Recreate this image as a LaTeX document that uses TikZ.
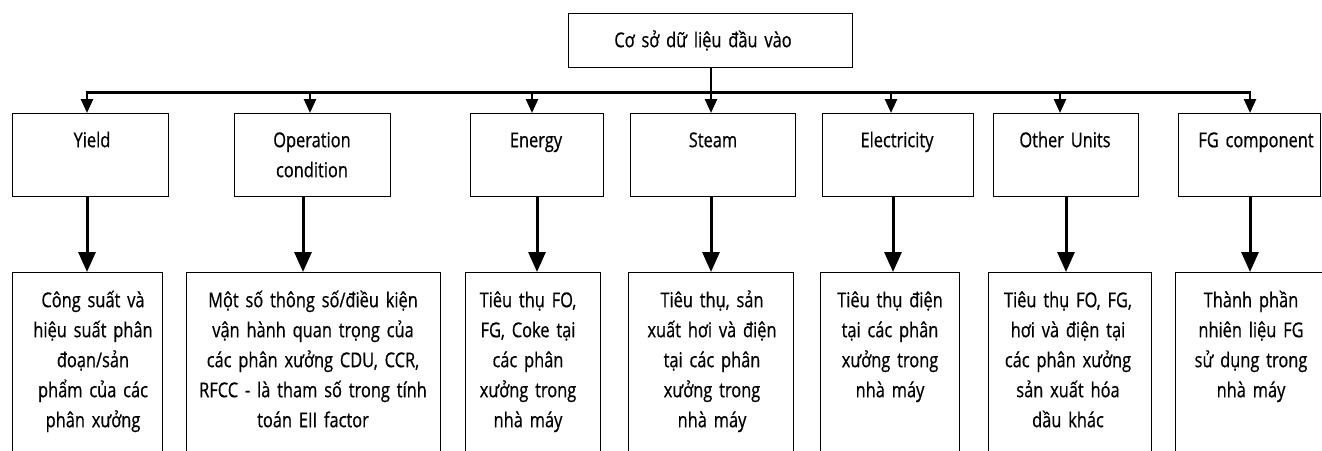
\documentclass[tikz,border=0pt]{standalone}
\usepackage{fontspec}
\setmainfont[FakeStretch=0.8,FakeBold=0.6]{Open Sans}
\usetikzlibrary{arrows.meta}
\begin{document}
\begin{tikzpicture}[x=1pt,y=-1pt,
  box/.style={draw, line width=1.2pt, inner sep=0pt, anchor=north west},
  txt/.style={inner sep=0pt, anchor=north, align=center, text width=260pt,
    font=\fontsize{20.5}{30}\selectfont},
  bus/.style={line width=2.5pt, line cap=rect},
  arrU/.style={line width=2.5pt, -{Triangle[length=14pt,width=12pt]}},
  arrL/.style={line width=3pt, -{Triangle[length=20pt,width=17pt]}}]
\useasboundingbox (0,0) rectangle (1322,450);
\clip (0,0) rectangle (1322,450);
\fill[white] (0,0) rectangle (1322,450);
% root
\node[box, minimum width=284pt, minimum height=54pt] (top) at (568,13) {};
\node[txt] (toptxt) at (703,25) {\rule{0pt}{22pt}Cơ sở dữ liệu đầu vào};
% top row
\node[box, minimum width=156pt, minimum height=83pt] (t1) at (12,113) {};
\node[box, minimum width=156pt, minimum height=83pt] (t2) at (234,113) {};
\node[box, minimum width=133pt, minimum height=83pt] (t3) at (470,113) {};
\node[box, minimum width=165pt, minimum height=83pt] (t4) at (630,113) {};
\node[box, minimum width=151pt, minimum height=83pt] (t5) at (822,113) {};
\node[box, minimum width=145pt, minimum height=83pt] (t6) at (993,113) {};
\node[box, minimum width=142pt, minimum height=83pt] (t7) at (1178,113) {};
\node[txt] (tt1) at (92,125) {\rule{0pt}{22pt}Yield};
\node[txt] (tt2) at (312,125) {\rule{0pt}{22pt}Operation\\condition};
\node[txt] (tt3) at (536,125) {\rule{0pt}{22pt}Energy};
\node[txt] (tt4) at (713,125) {\rule{0pt}{22pt}Steam};
\node[txt] (tt5) at (897,125) {\rule{0pt}{22pt}Electricity};
\node[txt] (tt6) at (1065,125) {\rule{0pt}{22pt}Other Units};
\node[txt] (tt7) at (1256,125) {\rule{0pt}{22pt}FG component};
% bottom row
\node[box, minimum width=150pt, minimum height=220pt] (c1) at (12,272) {};
\node[box, minimum width=254pt, minimum height=220pt] (c2) at (186,272) {};
\node[box, minimum width=135pt, minimum height=220pt] (c3) at (465,272) {};
\node[box, minimum width=165pt, minimum height=220pt] (c4) at (628,272) {};
\node[box, minimum width=139pt, minimum height=220pt] (c5) at (820,272) {};
\node[box, minimum width=163pt, minimum height=220pt] (c6) at (988,272) {};
\node[box, minimum width=160pt, minimum height=220pt] (c7) at (1175,272) {};
\node[txt] (ct1) at (93,285) {\rule{0pt}{22pt}Công suất và\\hiệu suất phân\\đoạn/sản\\phẩm của các\\phân xưởng};
\node[txt] (ct2) at (313,285) {\rule{0pt}{22pt}Một số thông số/điều kiện\\vận hành quan trọng của\\các phân xưởng CDU, CCR,\\RFCC - là tham số trong tính\\toán EII factor};
\node[txt] (ct3) at (528,285) {\rule{0pt}{22pt}Tiêu thụ FO,\\FG, Coke tại\\các phân\\xưởng trong\\nhà máy};
\node[txt] (ct4) at (712,285) {\rule{0pt}{22pt}Tiêu thụ, sản\\xuất hơi và điện\\tại các phân\\xưởng trong\\nhà máy};
\node[txt] (ct5) at (890,285) {\rule{0pt}{22pt}Tiêu thụ điện\\tại các phân\\xưởng trong\\nhà máy};
\node[txt] (ct6) at (1068,285) {\rule{0pt}{22pt}Tiêu thụ FO, FG,\\hơi và điện tại\\các phân xưởng\\sản xuất hóa\\dầu khác};
\node[txt] (ct7) at (1251,285) {\rule{0pt}{22pt}Thành phần\\nhiên liệu FG\\sử dụng trong\\nhà máy};
% bus
\coordinate (s0) at (711,92.5);
\coordinate (u1) at (87,92.5);
\coordinate (u2) at (310,92.5);
\coordinate (u3) at (532,92.5);
\coordinate (u4) at (711,92.5);
\coordinate (u5) at (891,92.5);
\coordinate (u6) at (1060,92.5);
\coordinate (u7) at (1250,92.5);
\draw[bus] (top.south -| s0) -- (s0);
\draw[bus] (u1) -- (u7);
\draw[arrU] (u1) -- (u1 |- t1.north);
\draw[arrU] (u2) -- (u2 |- t2.north);
\draw[arrU] (u3) -- (u3 |- t3.north);
\draw[arrU] (u4) -- (u4 |- t4.north);
\draw[arrU] (u5) -- (u5 |- t5.north);
\draw[arrU] (u6) -- (u6 |- t6.north);
\draw[arrU] (u7) -- (u7 |- t7.north);
% lower arrows
\coordinate (l1) at (87,0);
\coordinate (l2) at (303,0);
\coordinate (l3) at (537,0);
\coordinate (l4) at (711,0);
\coordinate (l5) at (893,0);
\coordinate (l6) at (1066,0);
\coordinate (l7) at (1250,0);
\draw[arrL] (t1.south -| l1) -- (c1.north -| l1);
\draw[arrL] (t2.south -| l2) -- (c2.north -| l2);
\draw[arrL] (t3.south -| l3) -- (c3.north -| l3);
\draw[arrL] (t4.south -| l4) -- (c4.north -| l4);
\draw[arrL] (t5.south -| l5) -- (c5.north -| l5);
\draw[arrL] (t6.south -| l6) -- (c6.north -| l6);
\draw[arrL] (t7.south -| l7) -- (c7.north -| l7);
\end{tikzpicture}
\end{document}
